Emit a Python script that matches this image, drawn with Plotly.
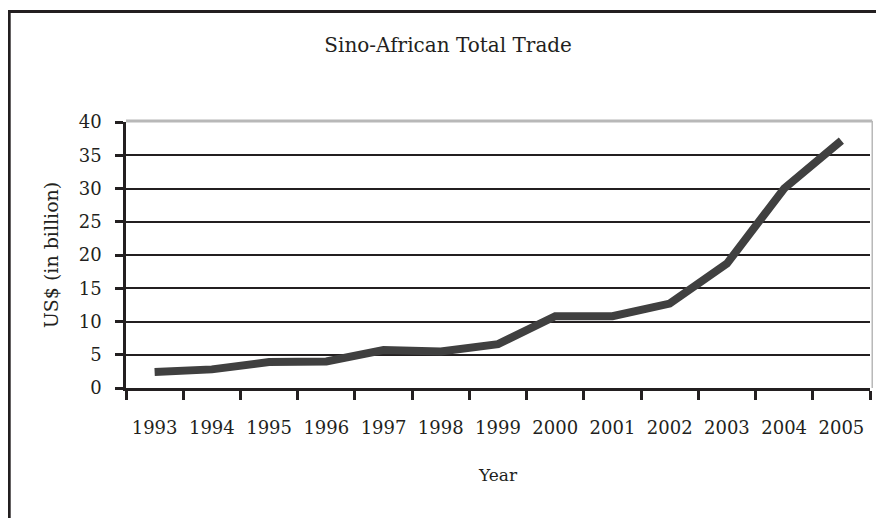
import plotly.graph_objects as go

years = ["1993", "1994", "1995", "1996", "1997", "1998", "1999",
         "2000", "2001", "2002", "2003", "2004", "2005"]
trade = [2.4, 2.8, 3.9, 4.0, 5.7, 5.5, 6.6, 10.8, 10.8, 12.7, 18.7, 30.0, 37.2]
y_ticks = [0, 5, 10, 15, 20, 25, 30, 35, 40]

FONT = "DejaVu Serif"
INK = "#231f20"
W, H = 876, 510  # page body has an 8px margin

fig = go.Figure()
fig.add_trace(go.Scatter(
    x=years, y=trade, mode="lines",
    line=dict(color="#404040", width=8),
    showlegend=False, hoverinfo="x+y",
))

fig.update_layout(
    width=W, height=H,
    margin=dict(l=118, r=14, t=114, b=130),
    paper_bgcolor="white", plot_bgcolor="white",
    title=dict(text="Sino-African Total Trade", x=0.433, xref="paper",
               y=1 - 37 / H, yref="container", xanchor="center", yanchor="middle",
               font=dict(family=FONT, size=20, color=INK)),
    font=dict(family=FONT, color=INK),
    xaxis=dict(
        type="category", tickson="boundaries",
        ticks="outside", ticklen=9, tickwidth=2.5, tickcolor=INK,
        showline=True, linecolor=INK, linewidth=2.5,
        showgrid=False, zeroline=False,
        tickfont=dict(family=FONT, size=18, color=INK),
        ticklabelstandoff=22,
        title=dict(text="Year", font=dict(family=FONT, size=17, color=INK), standoff=32),
        range=[-0.5, 12.5],
    ),
    yaxis=dict(
        range=[0, 40], tickmode="array", tickvals=y_ticks,
        ticks="outside", ticklen=8, tickwidth=2.5, tickcolor=INK,
        showline=True, linecolor=INK, linewidth=2.5,
        showgrid=True, gridcolor=INK, gridwidth=2,
        zeroline=False,
        tickfont=dict(family=FONT, size=18, color=INK),
        ticklabelstandoff=10,
        title=dict(text="US$ (in billion)", font=dict(family=FONT, size=19, color=INK), standoff=16),
    ),
    shapes=[
        # plot-area border (light gray, top and right)
        dict(type="line", xref="paper", yref="paper", x0=0, x1=1.003, y0=1.004, y1=1.004,
             line=dict(color="#b8b8b8", width=3), layer="above"),
        dict(type="line", xref="paper", yref="paper", x0=1.003, x1=1.003, y0=0, y1=1.004,
             line=dict(color="#b8b8b8", width=1.5), layer="above"),
        # outer chart frame
        dict(type="rect", xref="paper", yref="paper",
             x0=-0.157, x1=1.03, y0=-0.52, y1=1.415,
             line=dict(color=INK, width=3), layer="above"),
    ],
)

fig.write_html("out.html")
